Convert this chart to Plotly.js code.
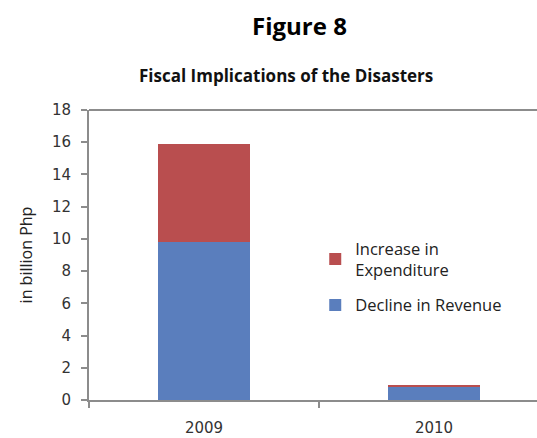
<!DOCTYPE html>
<html>
<head>
<meta charset="utf-8">
<script src="https://cdn.plot.ly/plotly-3.0.1.min.js"></script>
<style>html,body{margin:0;padding:0;background:#fff;}#chart{width:537px;height:438px;}</style>
</head>
<body>
<div id="chart"></div>
<script>
const years = ["2009", "2010"];
const declineInRevenue = [9.8, 0.83];
const increaseInExpenditure = [6.1, 0.1];
const yTicks = [0, 2, 4, 6, 8, 10, 12, 14, 16, 18];

const traces = [
  {type: "bar", x: years, y: declineInRevenue, name: "Decline in Revenue", legendgroup: "a", legendrank: 2,
   marker: {color: "#5a7ebd"}, width: 0.4, hoverinfo: "y"},
  {type: "bar", x: years, y: increaseInExpenditure, name: "Increase in<br>Expenditure", legendgroup: "b", legendrank: 1,
   marker: {color: "#b94e4f"}, width: 0.4, hoverinfo: "y"}
];

const layout = {
  width: 537, height: 438,
  margin: {l: 89, r: 0, t: 110, b: 38, pad: 0},
  barmode: "stack",
  paper_bgcolor: "#fff", plot_bgcolor: "#fff",
  showlegend: true,
  legend: {x: 0.505, y: 0.583, xanchor: "left", yanchor: "top", traceorder: "grouped",
           font: {family: "Open Sans", size: 16.5, color: "#222"}, itemwidth: 30,
           tracegroupgap: 11, bgcolor: "rgba(0,0,0,0)"},
  xaxis: {type: "category", range: [-0.5, 1.448], showline: true, linecolor: "#8c8c8c", linewidth: 2,
          mirror: false, ticks: "outside", tickson: "boundaries", ticklen: 6, tickcolor: "#8c8c8c", tickwidth: 2,
          ticklabelstandoff: 13,
          tickfont: {family: "DejaVu Sans", size: 15, color: "#333"}, showgrid: false, zeroline: false, fixedrange: true},
  yaxis: {range: [0, 18], tickvals: yTicks, showline: true, linecolor: "#8c8c8c", linewidth: 2,
          ticks: "outside", ticklen: 6, tickcolor: "#8c8c8c", tickwidth: 2, showgrid: false, zeroline: false,
          ticklabelstandoff: 7,
          tickfont: {family: "DejaVu Sans", size: 15, color: "#333"},
          title: {text: "in billion Php", font: {family: "Open Sans", size: 16, color: "#222"}, standoff: 15}},
  shapes: [
    {type: "line", xref: "paper", yref: "paper", x0: 0, x1: 1, y0: 1, y1: 1,
     line: {color: "#8c8c8c", width: 2}}
  ],
  annotations: [
    {text: "<b>Figure 8</b>", xref: "paper", yref: "paper", x: 0.469, y: 1.0, yshift: 85, yanchor: "middle",
     showarrow: false, font: {family: "Open Sans", size: 24, color: "#000"}},
    {text: "<b>Fiscal Implications of the Disasters</b>", xref: "paper", yref: "paper", x: 0.44, y: 1.0, yshift: 35, yanchor: "middle",
     showarrow: false, font: {family: "Open Sans", size: 17, color: "#111"}}
  ]
};

Plotly.newPlot("chart", traces, layout, {displayModeBar: false, staticPlot: true});
</script>
</body>
</html>
